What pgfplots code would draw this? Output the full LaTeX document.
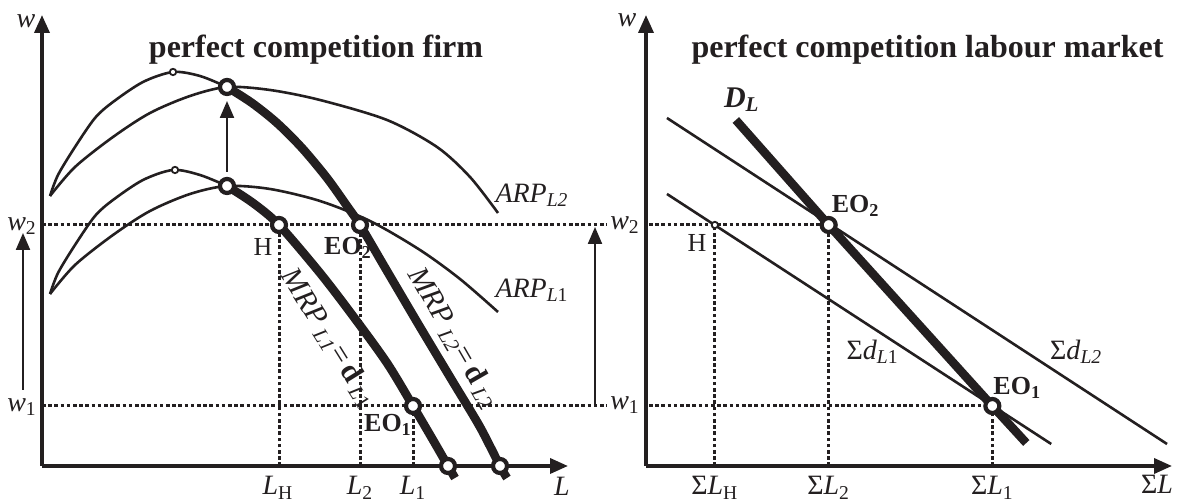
\documentclass[border=0pt]{standalone}
\usepackage{fontspec}
\setmainfont{Liberation Serif}
\usepackage{pgfplots}
\pgfplotsset{compat=1.18}
\usetikzlibrary{arrows.meta}
\definecolor{ink}{HTML}{231F20}

\pgfplotsset{
  panel/.style={
    scale only axis, width=263pt, height=225.5pt,
    xmin=0, ymin=0, ymax=451,
    axis lines=left, xtick=\empty, ytick=\empty,
    clip=false, set layers,
    axis line style={ink, line width=1.8pt, -{Triangle[length=9pt,width=7.5pt]}},
  },
  curve/.style={ink, line width=1.3pt, smooth, no markers},
  heavy/.style={ink, line width=4.3pt, smooth, no markers},
  guide/.style={ink, line width=1.5pt, dash pattern=on 1.8pt off 1.3pt, no markers},
  bigdot/.style={only marks, mark=*, mark size=3.5pt,
    mark options={fill=white, draw=ink, line width=2.1pt}},
  smalldot/.style={only marks, mark=*, mark size=1.6pt,
    mark options={fill=white, draw=ink, line width=0.9pt}},
  moveup/.style={ink, line width=1.1pt, -{Triangle[length=8.5pt,width=7pt]}, no markers},
}
\tikzset{
  lbl/.style={font=\fontsize{14}{16}\selectfont, text=ink, inner sep=0pt},
  eo/.style={font=\fontsize{13}{15}\selectfont\bfseries, text=ink, inner sep=0pt},
  ttl/.style={font=\fontsize{16}{18}\selectfont\bfseries, text=ink, inner sep=0pt},
}

\begin{document}
\begin{tikzpicture}

% ---------------- firm ----------------
\begin{axis}[panel, at={(21pt,17.5pt)}, anchor=south west, xmax=526]
  % wage levels and quantities
  \addplot[guide] coordinates {(0,241) (565,241)};
  \addplot[guide] coordinates {(0,60) (565,60)};
  \addplot[guide] coordinates {(237,0) (237,241)};
  \addplot[guide] coordinates {(318,0) (318,241)};
  \addplot[guide] coordinates {(371,0) (371,60)};

  % ARP_L2 and rising part of MRP_L2
  \addplot[curve] coordinates {(8,270) (33,299) (71,329) (108,353) (148,370) (185,379)
    (228,376) (278,366) (345,346) (395,319) (428,289) (456,253)};
  \addplot[curve] coordinates {(8,270) (16,291) (33,319) (53,348) (71,364) (101,384)
    (131,394) (158,390) (185,379)};
  % ARP_L1 and rising part of MRP_L1
  \addplot[curve] coordinates {(8,172) (33,201) (71,231) (108,255) (148,272) (185,280)
    (228,277) (278,265) (328,245) (378,216) (418,187) (456,154)};
  \addplot[curve] coordinates {(8,172) (16,193) (33,221) (53,250) (71,266) (101,286)
    (131,296) (158,291) (185,280)};

  % MRP = d (falling parts)
  \addplot[heavy] coordinates {(185,379) (210,363) (235,343) (260,318) (285,288) (305,260)
    (318,241) (345,195) (378,139) (411,84) (438,39) (458,0) (465,-12)};
  \addplot[heavy] coordinates {(185,280) (211,263) (237,241) (278,193) (311,150) (345,103)
    (371,60) (391,26) (406,0) (413,-12)};

  % shifts
  \addplot[moveup] coordinates {(185,294) (185,365)};
  \addplot[moveup] coordinates {(-19,76) (-19,233)};
  \addplot[moveup] coordinates {(553,61) (553,239)};

  % points
  \addplot[smalldot] coordinates {(131,394) (133,296)};
  \addplot[bigdot] coordinates {(185,379) (185,280) (237,241) (318,241) (371,60) (406,0) (458,0)};

  % text
  \node[ttl] at (axis cs:274,416) {perfect competition firm};
  \node[lbl] at (axis cs:-16,445) {\textit{w}};
  \node[lbl] at (axis cs:-20,240) {\textit{w}\textsubscript{2}};
  \node[lbl] at (axis cs:-20,59) {\textit{w}\textsubscript{1}};
  \node[lbl] at (axis cs:520,-20) {\textit{L}};
  \node[lbl] at (axis cs:236,-22) {\textit{L}\textsubscript{H}};
  \node[lbl] at (axis cs:318,-22) {\textit{L}\textsubscript{2}};
  \node[lbl] at (axis cs:371,-22) {\textit{L}\textsubscript{1}};
  \node[lbl] at (axis cs:490,271) {\textit{ARP}\textsubscript{\textit{L2}}};
  \node[lbl] at (axis cs:490,176) {\textit{ARP}\textsubscript{\textit{L}1}};
  \node[lbl, font=\fontsize{13}{15}\selectfont] at (axis cs:221,219) {H};
  \node[eo] at (axis cs:306,218) {EO\textsubscript{2}};
  \node[eo] at (axis cs:346,41) {EO\textsubscript{1}};
  \node[lbl, rotate=-58, font=\fontsize{15}{17}\selectfont] at (axis cs:287,128)
    {\textit{MRP}\,\textsubscript{\textit{L1}}=\,\textbf{d}\,\textsubscript{\textit{L}1}};
  \node[lbl, rotate=-60, font=\fontsize{15}{17}\selectfont] at (axis cs:412,128)
    {\textit{MRP}\,\textsubscript{\textit{L2}}=\,\textbf{d}\,\textsubscript{\textit{L}2}};
\end{axis}

% ---------------- labour market ----------------
\begin{axis}[panel, at={(323pt,17.5pt)}, anchor=south west, xmax=527]
  \addplot[guide] coordinates {(3,241) (183,241)};
  \addplot[guide] coordinates {(3,60) (347,60)};
  \addplot[guide] coordinates {(69,0) (69,241)};
  \addplot[guide] coordinates {(183,0) (183,241)};
  \addplot[guide] coordinates {(347,0) (347,60)};

  % individual demands summed
  \addplot[curve] coordinates {(21,348) (522,22)};
  \addplot[curve] coordinates {(21,272) (406,22)};
  % market demand
  \addplot[ink, line width=4.3pt, no markers] coordinates {(90,346) (183,241) (347,60) (381,23)};

  \addplot[smalldot] coordinates {(69,241)};
  \addplot[bigdot] coordinates {(183,241) (347,60)};

  \node[ttl] at (axis cs:282,416) {perfect competition labour market};
  \node[lbl] at (axis cs:-19,446) {\textit{w}};
  \node[lbl] at (axis cs:-21,241) {\textit{w}\textsubscript{2}};
  \node[lbl] at (axis cs:-21,61) {\textit{w}\textsubscript{1}};
  \node[lbl] at (axis cs:512,-18) {Σ\textit{L}};
  \node[lbl] at (axis cs:69,-22) {Σ\textit{L}\textsubscript{H}};
  \node[lbl] at (axis cs:183,-22) {Σ\textit{L}\textsubscript{2}};
  \node[lbl] at (axis cs:347,-22) {Σ\textit{L}\textsubscript{1}};
  \node[lbl, font=\fontsize{15}{17}\selectfont\bfseries\itshape] at (axis cs:96,366) {D\textsubscript{\textit{L}}};
  \node[eo] at (axis cs:210,260) {EO\textsubscript{2}};
  \node[eo] at (axis cs:372,78) {EO\textsubscript{1}};
  \node[lbl, font=\fontsize{13}{15}\selectfont] at (axis cs:51,223) {H};
  \node[lbl] at (axis cs:227,114) {Σ\textit{d}\textsubscript{\textit{L}1}};
  \node[lbl] at (axis cs:431,114) {Σ\textit{d}\textsubscript{\textit{L2}}};
\end{axis}

% page frame
\pgfresetboundingbox
\path[use as bounding box] (0,0) rectangle (589pt,250.5pt);
\end{tikzpicture}
\end{document}
